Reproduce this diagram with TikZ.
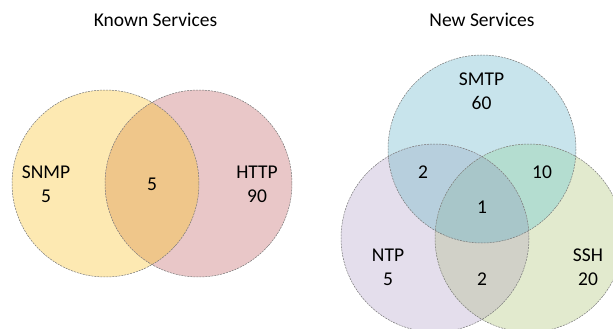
\documentclass[tikz,border=0pt]{standalone}
\usepackage{fontspec}
\setmainfont{Carlito}
\definecolor{cSNMP}{RGB}{253,233,178}
\definecolor{cHTTP}{RGB}{233,199,200}
\definecolor{cSH}{RGB}{239,198,138}
\definecolor{cSMTP}{RGB}{200,228,236}
\definecolor{cNTP}{RGB}{228,222,236}
\definecolor{cSSH}{RGB}{226,234,206}
\definecolor{cMN}{RGB}{183,207,221}
\definecolor{cMS}{RGB}{180,221,208}
\definecolor{cNS}{RGB}{209,209,200}
\definecolor{cALL}{RGB}{168,198,201}
\definecolor{cEdge}{RGB}{120,120,120}
\tikzset{
  outline/.style={draw=cEdge, line width=0.5pt, dash pattern=on 2pt off 1pt},
  lbl/.style={font=\fontsize{19.5}{24}\selectfont, align=center, inner sep=0pt, text=black}
}
\begin{document}
\begin{tikzpicture}[x=1pt,y=-1pt]
\useasboundingbox (0,0) rectangle (613,329);
\def\R{93.5}
\def\Q{94}
% left diagram
\fill[cSNMP] (105.5,183.5) circle (\R);
\fill[cHTTP] (198.5,183.5) circle (\R);
\begin{scope}
  \clip (105.5,183.5) circle (\R);
  \fill[cSH] (198.5,183.5) circle (\R);
\end{scope}
\draw[outline] (105.5,183.5) circle (\R);
\draw[outline] (198.5,183.5) circle (\R);
% right diagram
\begin{scope}
  \clip (0,0) rectangle (613,329);
  \fill[cSMTP] (482,149) circle (\Q);
  \fill[cNTP] (435,238) circle (\Q);
  \fill[cSSH] (529,238) circle (\Q);
  \begin{scope}
    \clip (482,149) circle (\Q);
    \fill[cMN] (435,238) circle (\Q);
    \fill[cMS] (529,238) circle (\Q);
  \end{scope}
  \begin{scope}
    \clip (435,238) circle (\Q);
    \fill[cNS] (529,238) circle (\Q);
    \clip (529,238) circle (\Q);
    \fill[cALL] (482,149) circle (\Q);
  \end{scope}
  \draw[outline] (482,149) circle (\Q);
  \draw[outline] (435,238) circle (\Q);
  \draw[outline] (529,238) circle (\Q);
\end{scope}
% labels
\node[lbl] (tK) at (155.5,20) {Known Services};
\node[lbl] (tN) at (482,20) {New Services};
\node[lbl] (snmp) at (46,184) {SNMP\\5};
\node[lbl] (sh) at (152,184) {5};
\node[lbl] (http) at (257,184) {HTTP\\90};
\node[lbl] (smtp) at (481.5,91) {SMTP\\60};
\node[lbl] (mn) at (423,172.5) {2};
\node[lbl] (ms) at (542,172.5) {10};
\node[lbl] (all) at (482,207.5) {1};
\node[lbl] (ntp) at (388,267) {NTP\\5};
\node[lbl] (ns) at (482,279) {2};
\node[lbl] (ssh) at (588,267) {SSH\\20};
\end{tikzpicture}
\end{document}
